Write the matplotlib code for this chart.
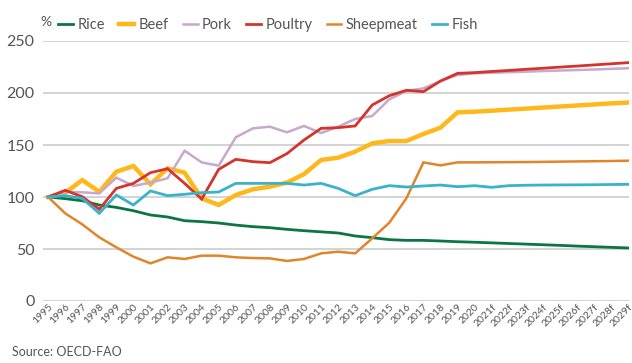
import matplotlib
matplotlib.use("Agg")
import matplotlib.pyplot as plt

plt.rcParams['font.family'] = ['Lato', 'DejaVu Sans']

# index, 1995 = 100
years = ['1995', '1996', '1997', '1998', '1999', '2000', '2001', '2002', '2003', '2004',
         '2005', '2006', '2007', '2008', '2009', '2010', '2011', '2012', '2013', '2014',
         '2015', '2016', '2017', '2018', '2019', '2020', '2021f', '2022f', '2023f', '2024f',
         '2025f', '2026f', '2027f', '2028f', '2029f']

rice = [100, 98.4, 96.4, 92.3, 90, 86.8, 82.7, 80.8, 77.2, 76.3,
        75, 73, 71.5, 70.5, 68.9, 67.6, 66.5, 65.4, 62.5, 60.9,
        59, 58.3, 58.3, 57.7, 57, 56.5, 55.9, 55.3, 54.7, 54.1,
        53.5, 52.8, 52.2, 51.6, 51]
beef = [100, 104, 116.3, 105, 124.3, 129.8, 112.2, 127.6, 123.4, 98.7,
        92.3, 101.9, 107.4, 109.9, 113.8, 122, 135.6, 137.8, 143.6, 151.6,
        153.8, 153.8, 160.6, 166.7, 181.4, 182, 183, 184, 185, 186,
        187, 188, 189, 190, 190.8]
pork = [100, 105, 104.5, 103.5, 118.6, 110.6, 113.8, 118, 144.5, 133.3,
        130.1, 157.4, 166, 167.6, 162.2, 168.3, 161.5, 167.6, 175, 177.9,
        193.9, 201.9, 204.5, 211.5, 217.3, 218.9, 219.5, 220, 220.5, 221.1,
        221.6, 222.1, 222.6, 223.2, 223.8]
poultry = [100, 106.4, 100.3, 88.2, 108.3, 113.1, 123.4, 127.2, 113.1, 98,
           126.6, 136.2, 134, 133, 141.7, 154.8, 166, 166.7, 168.3, 188.5,
           197.4, 202.6, 201.3, 211.5, 218.9, 219.6, 220.7, 221.7, 222.8, 223.8,
           224.9, 225.9, 227, 228.1, 229.2]
sheep = [100, 84.3, 73.7, 61.2, 51.6, 42.6, 36.2, 42, 40.4, 43.6,
         43.6, 42, 41.3, 41, 38.5, 40.4, 45.8, 47.4, 45.8, 60.3,
         75.3, 98.7, 133.3, 130.4, 133.3, 133.3, 133.4, 133.5, 133.6, 133.8,
         134, 134.2, 134.4, 134.6, 134.9]
fish = [100, 101.3, 98.7, 84.3, 101.9, 92.3, 105.8, 101.3, 102.6, 104.2,
        104.8, 113.1, 113.1, 113.1, 113.1, 111.5, 113.1, 108.3, 101.3, 107.4,
        110.9, 109.6, 110.6, 111.5, 109.9, 110.9, 109.3, 110.9, 111.3, 111.5,
        111.6, 111.7, 111.8, 112, 112.2]

series = [
    ('Rice', rice, '#0b7545', 2.0),
    ('Beef', beef, '#ffb81c', 3.2),
    ('Pork', pork, '#c8a8cd', 1.8),
    ('Poultry', poultry, '#d2352b', 2.0),
    ('Sheepmeat', sheep, '#e0852a', 1.8),
    ('Fish', fish, '#3ab2cc', 2.0),
]

fig = plt.figure(figsize=(6.32, 3.63), dpi=100)
ax = fig.add_axes([43 / 632, 1 - 301 / 363, 586 / 632, 260 / 363])

x = list(range(len(years)))
for name, vals, color, lw in series:
    ax.plot(x, vals, color=color, lw=lw, label=name, solid_joinstyle='miter')

ax.set_xlim(-0.3, 34.05)
ax.set_ylim(0, 250)
ax.set_yticks([0, 50, 100, 150, 200, 250])
ax.grid(axis='y', color='#cccccc', lw=1.2)
ax.set_axisbelow(True)
for s in ax.spines.values():
    s.set_visible(False)
ax.tick_params(axis='y', length=0, labelsize=11.5, labelcolor='#555555', pad=6)
ax.tick_params(axis='x', length=0, labelsize=7.5, labelcolor='#555555', pad=1)
ax.set_xticks(x)
ax.set_xticklabels(years, rotation=45, ha='right', rotation_mode='anchor')

fig.text(40 / 632, 1 - 22 / 363, '%', fontsize=10, color='#555555', ha='left', va='center')
fig.legend(loc='center', bbox_to_anchor=(268 / 632, 1 - 25 / 363), ncol=6, frameon=False,
           fontsize=10.5, handlelength=1.0, handletextpad=0.3, columnspacing=1.0,
           labelcolor='#555555')
fig.text(12 / 632, 1 - 352 / 363, 'Source: OECD-FAO', fontsize=9, color='#555555',
         ha='left', va='center')

fig.savefig('out.png', dpi=100)
